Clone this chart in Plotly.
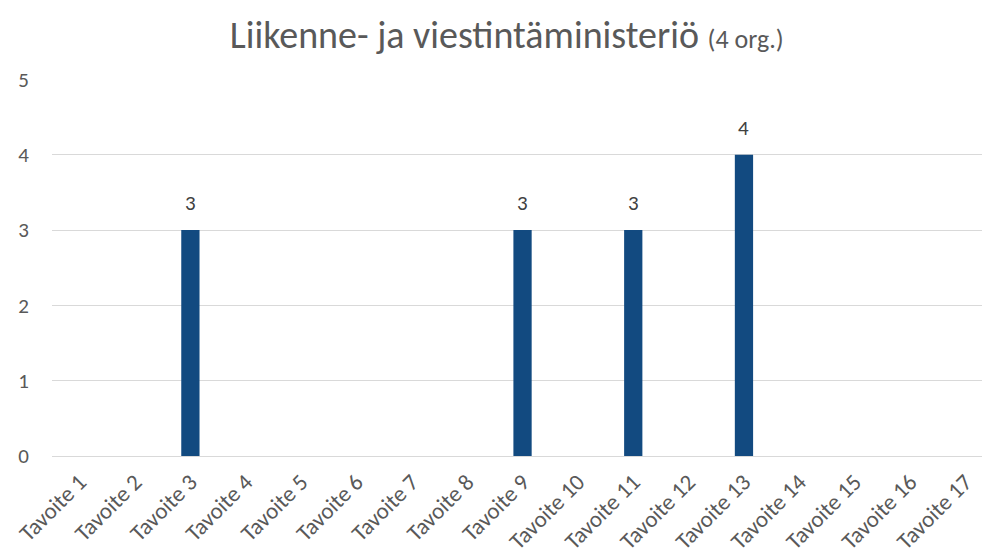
import plotly.graph_objects as go

categories = [f"Tavoite {i}" for i in range(1, 18)]
values = [None, None, 3, None, None, None, None, None, 3, None, 3, None, 4, None, None, None, None]
y_ticks = [0, 1, 2, 3, 4, 5]

FONT = "Carlito, Open Sans, Noto Sans, sans-serif"

fig = go.Figure()
fig.add_trace(go.Bar(
    x=categories,
    y=[0 if v is None else v for v in values],
    marker=dict(color="#124A80", line=dict(width=0)),
    hoverinfo="skip",
))

for c, v in zip(categories, values):
    if v is not None:
        fig.add_annotation(
            x=c, y=v, text=str(v), showarrow=False, yanchor="bottom", yshift=12,
            font=dict(family=FONT, size=21, color="#404040"),
        )

fig.update_layout(
    width=982, height=558,
    margin=dict(l=52, r=0, t=79, b=102),
    paper_bgcolor="white", plot_bgcolor="white",
    bargap=0.67,
    showlegend=False,
    title=dict(
        text="Liikenne- ja viestintäministeriö <span style='font-size:26px'>(4 org.)</span>",
        x=0.516, xanchor="center", y=0.937, yanchor="middle",
        font=dict(family=FONT, size=38, color="#595959"),
    ),
    xaxis=dict(
        type="category", range=[-0.5, 16.3], automargin=False,
        tickangle=-45, showgrid=False, zeroline=False, showline=False,
        ticks="", ticklabelstandoff=7,
        tickfont=dict(family=FONT, size=23, color="#595959"),
    ),
    yaxis=dict(
        range=[0, 5.005], tickvals=y_ticks, showgrid=True, gridcolor="#D9D9D9", gridwidth=1,
        zeroline=True, zerolinecolor="#D9D9D9", zerolinewidth=1, showline=False, ticks="",
        automargin=False, ticklabelstandoff=22,
        tickfont=dict(family=FONT, size=21, color="#595959"),
    ),
)

fig.write_html("out.html", config={"displayModeBar": False},
               post_script="document.body.style.margin='0';")
